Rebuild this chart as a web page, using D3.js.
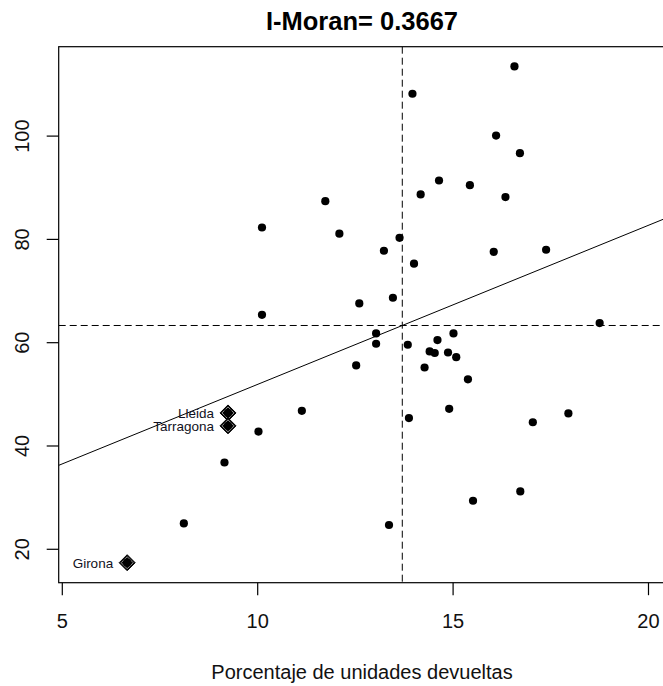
<!DOCTYPE html>
<html>
<head>
<meta charset="utf-8">
<script src="https://cdn.jsdelivr.net/npm/d3@7"></script>
<style>
  html, body { margin: 0; padding: 0; background: #fff; }
  svg { display: block; font-family: "Liberation Sans", Arial, sans-serif; }
</style>
</head>
<body>
<svg id="chart" width="663" height="686"></svg>
<script>
// ---- data ----
const title = "I-Moran= 0.3667";
const xLabel = "Porcentaje de unidades devueltas";
const xTicks = [5, 10, 15, 20];
const yTicks = [20, 40, 60, 80, 100];

const xVals = [16.57, 13.96, 16.10, 16.71, 14.64, 15.43, 14.17, 16.34, 11.73, 10.11,
               12.09, 13.63, 13.23, 16.04, 17.38, 14.00, 13.46, 12.60, 10.11, 18.75,
               13.03, 13.03, 13.84, 14.60, 15.01, 14.40, 14.53, 14.87, 15.08, 12.52,
               14.27, 15.38, 11.13, 10.02, 13.87, 14.90, 17.04, 17.95, 9.15, 8.11,
               13.36, 15.51, 16.72];
const yVals = [113.5, 108.2, 100.1, 96.7, 91.4, 90.5, 88.7, 88.2, 87.4, 82.3,
               81.1, 80.3, 77.8, 77.6, 78.0, 75.3, 68.7, 67.6, 65.4, 63.8,
               61.8, 59.8, 59.6, 60.5, 61.8, 58.3, 58.0, 58.1, 57.2, 55.6,
               55.2, 52.9, 46.8, 42.8, 45.4, 47.2, 44.6, 46.3, 36.8, 25.0,
               24.7, 29.4, 31.2];

const hlNames = ["Lleida", "Tarragona", "Girona"];
const hlX = [9.24, 9.24, 6.66];
const hlY = [46.4, 43.9, 17.4];

const meanX = 13.70;
const meanY = 63.33;
const slope = 3.08;

// ---- layout ----
const W = 663, H = 686;
const pL = 58.7, pR = 665.3, pT = 46.7, pB = 582.7;
const svg = d3.select("#chart");
svg.append("rect").attr("width", W).attr("height", H).attr("fill", "#fff");

const x = d3.scaleLinear().domain([4.908, 20.43]).range([pL, pR]);
const y = d3.scaleLinear().domain([13.53, 117.31]).range([pB, pT]);

const fontSize = 20;

// clip
svg.append("clipPath").attr("id", "clip")
  .append("rect").attr("x", pL).attr("y", pT)
  .attr("width", pR - pL).attr("height", pB - pT);
const plot = svg.append("g").attr("clip-path", "url(#clip)");

// reference dashed lines
plot.append("line")
  .attr("x1", x(meanX)).attr("x2", x(meanX))
  .attr("y1", pT).attr("y2", pB)
  .attr("stroke", "#000").attr("stroke-width", 1).attr("stroke-dasharray", "7,4");
plot.append("line")
  .attr("x1", pL).attr("x2", pR)
  .attr("y1", y(meanY)).attr("y2", y(meanY))
  .attr("stroke", "#000").attr("stroke-width", 1).attr("stroke-dasharray", "7,4");

// regression line
const xd = x.domain();
plot.append("line")
  .attr("x1", x(xd[0])).attr("y1", y(meanY + slope * (xd[0] - meanX)))
  .attr("x2", x(xd[1])).attr("y2", y(meanY + slope * (xd[1] - meanX)))
  .attr("stroke", "#000").attr("stroke-width", 1);

// points
const pts = xVals.map((v, i) => ({x: v, y: yVals[i]}));
plot.selectAll("circle.pt").data(pts).enter().append("circle")
  .attr("class", "pt")
  .attr("cx", d => x(d.x)).attr("cy", d => y(d.y))
  .attr("r", 4.1).attr("fill", "#000");

// highlighted points
const hl = hlNames.map((n, i) => ({name: n, x: hlX[i], y: hlY[i]}));
const diamond = (cx, cy, s) => `M${cx},${cy - s}L${cx + s},${cy}L${cx},${cy + s}L${cx - s},${cy}Z`;
const hg = plot.selectAll("g.hl").data(hl).enter().append("g").attr("class", "hl");
hg.append("path")
  .attr("d", d => diamond(x(d.x), y(d.y), 8))
  .attr("fill", "#000").attr("stroke", "#000").attr("stroke-width", 1);
hg.append("path")
  .attr("d", d => diamond(x(d.x), y(d.y), 6))
  .attr("fill", "none").attr("stroke", "#bbb").attr("stroke-width", 0.8);
hg.append("circle")
  .attr("cx", d => x(d.x)).attr("cy", d => y(d.y))
  .attr("r", 4.1).attr("fill", "#000");
hg.append("text")
  .attr("x", d => x(d.x) - 14).attr("y", d => y(d.y))
  .attr("dy", "0.36em")
  .attr("text-anchor", "end")
  .attr("font-size", 13.5).attr("fill", "#111122")
  .text(d => d.name);

// box
svg.append("rect")
  .attr("x", pL).attr("y", pT)
  .attr("width", pR - pL).attr("height", pB - pT)
  .attr("fill", "none").attr("stroke", "#000").attr("stroke-width", 1.2);

// x axis
const xAxis = svg.append("g");
xAxis.selectAll("line.tk").data(xTicks).enter().append("line")
  .attr("class", "tk")
  .attr("x1", d => x(d)).attr("x2", d => x(d))
  .attr("y1", pB).attr("y2", pB + 12.5)
  .attr("stroke", "#000").attr("stroke-width", 1.2);
xAxis.selectAll("text").data(xTicks).enter().append("text")
  .attr("x", d => x(d)).attr("y", 628.3)
  .attr("text-anchor", "middle")
  .attr("font-size", fontSize).attr("fill", "#111")
  .text(d => d);

// y axis
const yAxis = svg.append("g");
yAxis.selectAll("line.tk").data(yTicks).enter().append("line")
  .attr("class", "tk")
  .attr("x1", pL - 12).attr("x2", pL)
  .attr("y1", d => y(d)).attr("y2", d => y(d))
  .attr("stroke", "#000").attr("stroke-width", 1.2);
yAxis.selectAll("text").data(yTicks).enter().append("text")
  .attr("transform", d => `translate(29.3,${y(d)}) rotate(-90)`)
  .attr("text-anchor", "middle")
  .attr("font-size", fontSize).attr("fill", "#111")
  .text(d => d);

// title
svg.append("text")
  .attr("x", (pL + pR) / 2).attr("y", 30)
  .attr("text-anchor", "middle")
  .attr("font-size", 25.5).attr("font-weight", "bold").attr("fill", "#000")
  .text(title);

// x label
svg.append("text")
  .attr("x", (pL + pR) / 2).attr("y", 678.6)
  .attr("text-anchor", "middle")
  .attr("font-size", fontSize).attr("fill", "#111")
  .text(xLabel);
</script>
</body>
</html>
